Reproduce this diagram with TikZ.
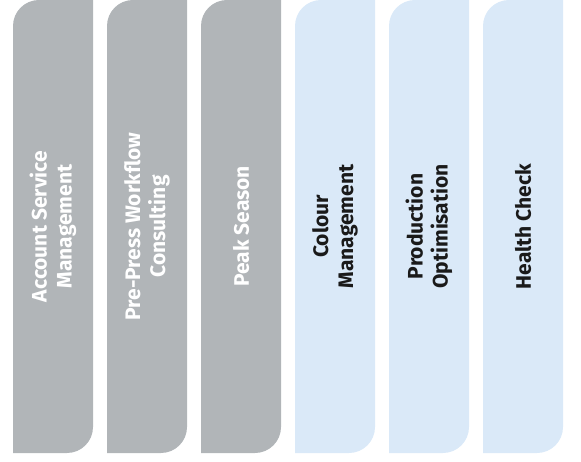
\documentclass[tikz,border=0pt]{standalone}
\usepackage{fontspec}
\setsansfont{Fira Sans}
\usetikzlibrary{positioning}

\definecolor{bargray}{RGB}{177,181,184}
\definecolor{barblue}{RGB}{218,233,248}
\definecolor{bartext}{RGB}{26,26,26}

\tikzset{
  bartitle/.style = {rotate=90, align=center, inner sep=0pt,
    font=\sffamily\bfseries\fontsize{21}{25}\selectfont},
}

\begin{document}
\begin{tikzpicture}[x=1pt,y=1pt]
    \useasboundingbox (0,0) rectangle (581,461);

    % six columns, leaf shaped
    \foreach \i/\fillc/\textc/\name in {
        0/bargray/white/{Account Service\\Management},
        1/bargray/white/{Pre-Press Workflow\\Consulting},
        2/bargray/white/{Peak Season},
        3/barblue/bartext/{Colour\\Management},
        4/barblue/bartext/{Production\\Optimisation},
        5/barblue/bartext/{Health Check}}
    {
      \pgfmathsetmacro{\xa}{13+94*\i}
      \pgfmathsetmacro{\xb}{\xa+80}
      \fill[\fillc] (\xa,8) -- (\xa,435) arc[start angle=180, end angle=90, radius=26]
        -- (\xb,461) -- (\xb,34) arc[start angle=0, end angle=-90, radius=26] -- cycle;
      \node[bartitle, text=\textc] (title\i) at (\xa+40,234.5) {\name};
    }
  \end{tikzpicture}
\end{document}
